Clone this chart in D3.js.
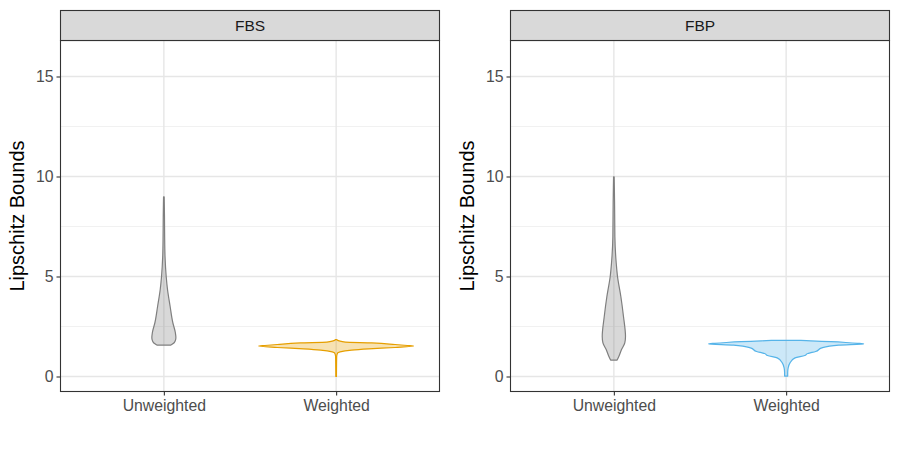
<!DOCTYPE html>
<html>
<head>
<meta charset="utf-8">
<script src="https://cdn.jsdelivr.net/npm/d3@7"></script>
<style>
  html, body { margin: 0; padding: 0; background: #fff; }
  svg { display: block; font-family: "Liberation Sans", Arial, sans-serif; }
</style>
</head>
<body>
<div id="chart"></div>
<script>
// -----------------------------
// Data
// -----------------------------
const facets = ["FBS", "FBP"];
const groups = ["Unweighted", "Weighted"];
const yTicks = [0, 5, 10, 15];
const yMinorTicks = [2.5, 7.5, 12.5];

// [bound value, relative violin width (1 = widest violin)]
const fbsUnweighted = [
  [1.57, 0.09], [1.62, 0.11], [1.7, 0.135], [1.85, 0.152], [1.95, 0.155],
  [2.2, 0.148], [2.7, 0.115], [3.5, 0.081], [4.35, 0.047], [5.0, 0.03],
  [6.0, 0.015], [7.0, 0.01], [8.0, 0.008], [8.98, 0.004]
];
const fbsWeighted = [
  [0.0, 0.004], [0.5, 0.005], [1.0, 0.007], [1.18, 0.02], [1.23, 0.05],
  [1.32, 0.2], [1.38, 0.42], [1.45, 0.76], [1.52, 1.0], [1.55, 0.92],
  [1.6, 0.76], [1.68, 0.46], [1.72, 0.12], [1.78, 0.04], [1.85, 0.005]
];
const fbpUnweighted = [
  [0.82, 0.042], [1.0, 0.064], [1.35, 0.099], [1.68, 0.141], [2.0, 0.15],
  [3.0, 0.124], [4.0, 0.09], [5.0, 0.047], [5.68, 0.03], [7.0, 0.013],
  [8.7, 0.009], [9.98, 0.004]
];
const fbpWeighted = [
  [0.02, 0.02], [0.2, 0.02], [0.43, 0.026], [0.68, 0.05], [0.93, 0.115],
  [1.05, 0.24], [1.15, 0.28], [1.18, 0.31], [1.25, 0.38], [1.43, 0.46],
  [1.57, 0.68], [1.63, 1.0], [1.66, 0.92], [1.7, 0.77], [1.74, 0.58],
  [1.78, 0.32], [1.81, 0.19]
];

const violinData = {
  FBS: { Unweighted: fbsUnweighted, Weighted: fbsWeighted },
  FBP: { Unweighted: fbpUnweighted, Weighted: fbpWeighted }
};
const violinColors = {
  FBS: { Unweighted: "#7f7f7f", Weighted: "#E69F00" },
  FBP: { Unweighted: "#7f7f7f", Weighted: "#56B4E9" }
};

(() => {
  const W = 900;
  const H = 450;
  const PANEL_TOP = 40.5;
  const PANEL_BOTTOM = 391.5;
  const STRIP_TOP = 10.5;
  const panelX = { FBS: [60.5, 439.5], FBP: [510.5, 889.5] };

  const svg = d3.select("#chart")
    .append("svg")
    .attr("width", W)
    .attr("height", H);

  const y = d3.scaleLinear()
    .domain([-0.75, 16.8])
    .range([PANEL_BOTTOM, PANEL_TOP]);

  // -----------------------------
  // One facet panel
  // -----------------------------
  function drawPanel(facet) {
    const [x0, x1] = panelX[facet];
    const x = d3.scalePoint().domain(groups).range([x0, x1]).padding(0.6);
    const halfMax = 0.45 * x.step();

    const g = svg.append("g").attr("class", "panel");

    // grid
    g.selectAll("line.minor")
      .data(yMinorTicks)
      .join("line")
      .attr("x1", x0).attr("x2", x1)
      .attr("y1", (d) => y(d)).attr("y2", (d) => y(d))
      .attr("stroke", "#ebebeb").attr("stroke-width", 0.7);

    g.selectAll("line.major")
      .data(yTicks)
      .join("line")
      .attr("x1", x0).attr("x2", x1)
      .attr("y1", (d) => y(d)).attr("y2", (d) => y(d))
      .attr("stroke", "#e6e6e6").attr("stroke-width", 1.4);

    g.selectAll("line.vgrid")
      .data(groups)
      .join("line")
      .attr("x1", (d) => x(d)).attr("x2", (d) => x(d))
      .attr("y1", PANEL_TOP).attr("y2", PANEL_BOTTOM)
      .attr("stroke", "#e6e6e6").attr("stroke-width", 1.4);

    // violins
    groups.forEach((grp) => {
      const cx = x(grp);
      const col = violinColors[facet][grp];
      const area = d3.area()
        .curve(d3.curveMonotoneY)
        .y((d) => y(d[0]))
        .x0((d) => cx - d[1] * halfMax)
        .x1((d) => cx + d[1] * halfMax);

      g.append("path")
        .datum(violinData[facet][grp])
        .attr("d", area)
        .attr("fill", col)
        .attr("fill-opacity", 0.3)
        .attr("stroke", col)
        .attr("stroke-width", 1.2)
        .attr("stroke-linejoin", "round");
    });

    // panel border
    g.append("rect")
      .attr("x", x0).attr("y", PANEL_TOP)
      .attr("width", x1 - x0).attr("height", PANEL_BOTTOM - PANEL_TOP)
      .attr("fill", "none").attr("stroke", "#333333").attr("stroke-width", 1.1);

    // strip
    g.append("rect")
      .attr("x", x0).attr("y", STRIP_TOP)
      .attr("width", x1 - x0).attr("height", PANEL_TOP - STRIP_TOP)
      .attr("fill", "#d9d9d9").attr("stroke", "#333333").attr("stroke-width", 1.1);
    g.append("text")
      .attr("x", (x0 + x1) / 2).attr("y", (STRIP_TOP + PANEL_TOP) / 2 + 5.5)
      .attr("text-anchor", "middle")
      .attr("font-size", 15.5)
      .attr("fill", "#1a1a1a")
      .text(facet);

    // axes
    const yAxis = g.append("g")
      .attr("transform", `translate(${x0},0)`)
      .call(d3.axisLeft(y).tickValues(yTicks).tickSize(4).tickPadding(3));
    const xAxis = g.append("g")
      .attr("transform", `translate(0,${PANEL_BOTTOM})`)
      .call(d3.axisBottom(x).tickSize(4).tickPadding(4));

    [yAxis, xAxis].forEach((ax) => {
      ax.select(".domain").remove();
      ax.selectAll(".tick line").attr("stroke", "#333333").attr("stroke-width", 1.1);
      ax.selectAll(".tick text")
        .attr("fill", "#4d4d4d")
        .attr("font-size", 15.8)
        .attr("font-family", "'Liberation Sans', Arial, sans-serif");
    });

    // y title
    g.append("text")
      .attr("transform", `translate(${x0 - 37},${(PANEL_TOP + PANEL_BOTTOM) / 2}) rotate(-90)`)
      .attr("text-anchor", "middle")
      .attr("font-size", 20)
      .attr("fill", "#000")
      .text("Lipschitz Bounds");
  }

  facets.forEach(drawPanel);
})();
</script>
</body>
</html>
